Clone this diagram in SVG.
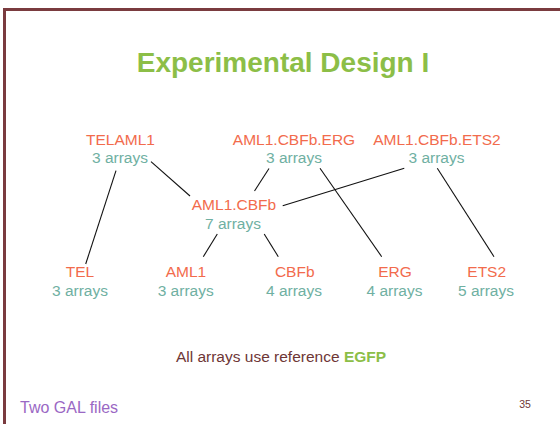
<svg xmlns="http://www.w3.org/2000/svg" width="560" height="424" viewBox="0 0 560 424">
<style>
text{font-family:"Liberation Sans",Arial,sans-serif;text-anchor:middle}
.n{fill:#F26B4C;font-size:15.5px}
.c{fill:#6FB0A2;font-size:15.5px}
.e line{stroke:#111;stroke-width:1.1}
</style>
<rect x="0" y="0" width="560" height="424" fill="#fff"/>
<path d="M4.5,424 V9.5 H560" fill="none" stroke="#7A3B3F" stroke-width="3"/>
<text x="283" y="72" style="font-size:28px;font-weight:bold;fill:#8CBE47">Experimental Design I</text>
<g class="e">
<line x1="116" y1="170.7" x2="85.7" y2="264"/>
<line x1="151" y1="161.7" x2="190" y2="196"/>
<line x1="269" y1="168.5" x2="254.5" y2="191"/>
<line x1="217.3" y1="234" x2="203.3" y2="256.7"/>
<line x1="264.2" y1="234" x2="278.3" y2="256.7"/>
<line x1="282.7" y1="205.7" x2="404.3" y2="168.3"/>
<line x1="320" y1="168.3" x2="381.7" y2="256.7"/>
<line x1="437.3" y1="168.3" x2="494" y2="256.7"/>
</g>
<g id="telaml1"><text class="n" x="120.5" y="144.5">TELAML1</text><text class="c" x="120" y="162.7">3 arrays</text></g>
<g id="aml1cbfberg"><text class="n" x="294" y="144.5">AML1.CBFb.ERG</text><text class="c" x="294" y="162.7">3 arrays</text></g>
<g id="aml1cbfbets2"><text class="n" x="437" y="144.5">AML1.CBFb.ETS2</text><text class="c" x="436.5" y="162.7">3 arrays</text></g>
<g id="aml1cbfb"><text class="n" x="234" y="210">AML1.CBFb</text><text class="c" x="233" y="228.7">7 arrays</text></g>
<g id="tel"><text class="n" x="80" y="276.7">TEL</text><text class="c" x="80" y="295.7">3 arrays</text></g>
<g id="aml1"><text class="n" x="186" y="276.7">AML1</text><text class="c" x="185.7" y="295.7">3 arrays</text></g>
<g id="cbfb"><text class="n" x="294.7" y="276.7">CBFb</text><text class="c" x="294" y="295.7">4 arrays</text></g>
<g id="erg"><text class="n" x="395" y="276.7">ERG</text><text class="c" x="394.5" y="295.7">4 arrays</text></g>
<g id="ets2"><text class="n" x="486.7" y="276.7">ETS2</text><text class="c" x="486" y="295.7">5 arrays</text></g>
<text x="281" y="361.5" style="font-size:15.5px;fill:#6E3636">All arrays use reference <tspan style="font-weight:bold;fill:#8CBE47">EGFP</tspan></text>
<text x="20" y="413.3" style="font-size:16px;fill:#9A68C4;text-anchor:start">Two GAL files</text>
<text x="525" y="408" style="font-size:10.5px;fill:#6E3636">35</text>
</svg>
